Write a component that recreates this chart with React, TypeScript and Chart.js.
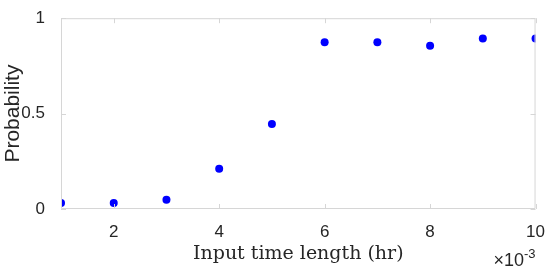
import React, { useEffect, useRef } from "react";
import { Chart, registerables } from "chart.js";

Chart.register(...registerables);

const inputLengths = [1, 2, 3, 4, 5, 6, 7, 8, 9, 10];
const probabilities = [0.032, 0.032, 0.049, 0.211, 0.446, 0.874, 0.874, 0.856, 0.893, 0.893];
const xTickValues = [2, 4, 6, 8, 10];
const yTickValues = [0, 0.5, 1];
const xTitle = "Input time length (hr)";
const yTitle = "Probability";

const boxPlugin = {
  id: "boxPlugin",
  afterDraw(chart: any) {
    const { ctx, chartArea, scales } = chart;
    const { left, right, top, bottom } = chartArea;
    ctx.save();
    ctx.strokeStyle = "#d6d6d6";
    ctx.lineWidth = 1;
    ctx.beginPath();
    ctx.rect(left + 0.5, top + 0.5, right - left - 1, bottom - top - 1);
    ctx.stroke();
    const tl = 5;
    ctx.beginPath();
    xTickValues.forEach((v) => {
      const px = Math.round(scales.x.getPixelForValue(v)) + 0.5;
      ctx.moveTo(px, bottom);
      ctx.lineTo(px, bottom - tl);
      ctx.moveTo(px, top);
      ctx.lineTo(px, top + tl);
    });
    yTickValues.forEach((v) => {
      const py = Math.round(scales.y.getPixelForValue(v)) + 0.5;
      ctx.moveTo(left, py);
      ctx.lineTo(left + tl, py);
      ctx.moveTo(right, py);
      ctx.lineTo(right - tl, py);
    });
    ctx.stroke();
    // exponent label
    ctx.fillStyle = "#262626";
    ctx.textBaseline = "alphabetic";
    ctx.textAlign = "left";
    const mainFont = "18px 'Liberation Sans'";
    const supFont = "13px 'Liberation Sans'";
    const main = "\u00d710";
    ctx.font = mainFont;
    const w = ctx.measureText(main).width;
    ctx.font = supFont;
    const sw = ctx.measureText("-3").width;
    const baseX = right - w - sw;
    const baseY = bottom + 57;
    ctx.font = mainFont;
    ctx.fillText(main, baseX, baseY);
    ctx.font = supFont;
    ctx.fillText("-3", baseX + w, baseY - 8);
    ctx.restore();
  },
};

export default function App() {
  const ref = useRef<HTMLCanvasElement>(null);
  useEffect(() => {
    document.body.style.margin = "0";
    const chart = new Chart(ref.current as HTMLCanvasElement, {
      type: "scatter",
      data: {
        datasets: [
          {
            data: inputLengths.map((x, i) => ({ x, y: probabilities[i] })),
            backgroundColor: "#0000ff",
            borderColor: "#0000ff",
            pointRadius: 4,
            pointBorderWidth: 0,
          },
        ],
      },
      options: {
        animation: false,
        responsive: false,
        layout: { padding: { top: 10, right: 9, left: 0, bottom: 0 } },
        plugins: { legend: { display: false }, tooltip: { enabled: false } },
        scales: {
          x: {
            type: "linear",
            min: 1,
            max: 10,
            afterBuildTicks: (s: any) => {
              s.ticks = xTickValues.map((value) => ({ value }));
            },
            afterFit: (s: any) => {
              s.height = 63;
            },
            grid: { display: false },
            border: { display: false },
            ticks: {
              color: "#262626",
              font: { family: "'Liberation Sans'", size: 17 },
              padding: 5,
              maxRotation: 0,
              callback: (v: any) => String(v),
            },
            title: {
              display: true,
              text: xTitle,
              color: "#262626",
              font: { family: "'DejaVu Serif'", size: 19 },
              padding: { top: 0, bottom: 7 },
            },
          },
          y: {
            min: 0,
            max: 1,
            afterBuildTicks: (s: any) => {
              s.ticks = yTickValues.map((value) => ({ value }));
            },
            afterFit: (s: any) => {
              s.width = 61;
            },
            grid: { display: false },
            border: { display: false },
            ticks: {
              color: "#262626",
              font: { family: "'Liberation Sans'", size: 17 },
              padding: 8,
              callback: (v: any) => String(v),
            },
            title: {
              display: true,
              text: yTitle,
              color: "#262626",
              font: { family: "'Liberation Sans'", size: 21 },
              padding: { top: 1, bottom: 0 },
            },
          },
        },
      },
      plugins: [boxPlugin],
    });
    return () => chart.destroy();
  }, []);
  return (
    <div style={{ width: 550, height: 272 }}>
      <canvas ref={ref} width={550} height={272} />
    </div>
  );
}
